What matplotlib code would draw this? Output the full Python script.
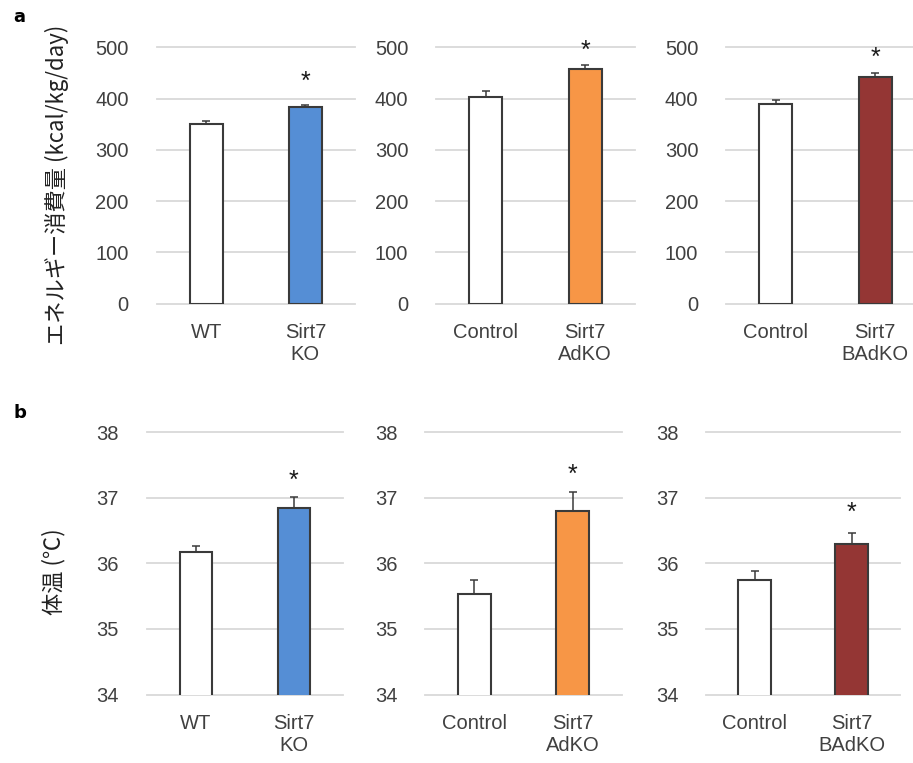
import matplotlib
matplotlib.use("Agg")
import matplotlib.pyplot as plt

# ---------------------------------------------------------------------------
# Data
# ---------------------------------------------------------------------------
GROUP_LABELS = [
    ["WT", "Sirt7\nKO"],
    ["Control", "Sirt7\nAdKO"],
    ["Control", "Sirt7\nBAdKO"],
]
KO_COLORS = ["#558ED5", "#F79646", "#943634"]

ENERGY_MEAN = [[351, 383], [403, 457], [389, 442]]
ENERGY_ERR = [[5, 5], [11, 9], [8, 8]]
ENERGY_STAR = [441, 501, 488]
ENERGY_TICKS = [0, 100, 200, 300, 400, 500]

TEMP_MEAN = [[36.18, 36.85], [35.54, 36.80], [35.75, 36.30]]
TEMP_ERR = [[0.09, 0.17], [0.21, 0.29], [0.14, 0.17]]
TEMP_STAR = [37.33, 37.41, 36.84]
TEMP_TICKS = [34, 35, 36, 37, 38]

# ---------------------------------------------------------------------------
# Layout / style
# ---------------------------------------------------------------------------
W, H = 913, 763
TEXT = "#404040"
GRID = "#D9D9D9"
EDGE = "#3A3A3A"

plt.rcParams["font.family"] = ["Liberation Sans", "Noto Sans CJK JP", "DejaVu Sans"]


def px_axes(x0, x1, ytop, ybot):
    return [x0 / W, 1 - ybot / H, (x1 - x0) / W, (ybot - ytop) / H]


ROW_A = [(156.5, 355), (436, 635), (726, 925)]
ROW_B = [(146.7, 343), (425, 622), (706, 900)]


def draw_panel(ax, labels, means, errs, star_y, ticks, ko_color):
    x = [0, 1]
    ax.bar(x, means, width=0.33, color=["white", ko_color],
           edgecolor=EDGE, linewidth=1.5, zorder=3)
    ax.errorbar(x, means, yerr=[[0, 0], errs], fmt="none", ecolor=EDGE,
                elinewidth=1.1, capsize=3, capthick=1.1, zorder=4)
    ax.annotate("*", (1, star_y), xytext=(0, -3), textcoords="offset points",
                ha="center", va="center", fontsize=18, color="#1A1A1A",
                annotation_clip=False)

    ax.set_xlim(-0.5, 1.5)
    ax.set_ylim(ticks[0], ticks[-1])
    ax.set_yticks(ticks)
    ax.set_xticks(x, labels)
    ax.tick_params(axis="y", length=0, pad=20, labelsize=14.5, labelcolor=TEXT)
    ax.tick_params(axis="x", length=0, pad=14, labelsize=14.5, labelcolor=TEXT)
    for s in ax.spines.values():
        s.set_visible(False)
    ax.set_axisbelow(True)
    ax.yaxis.grid(True, color=GRID, linewidth=1.3)
    for gl in ax.yaxis.get_gridlines():
        gl.set_clip_on(False)


fig = plt.figure(figsize=(W / 100, H / 100), dpi=100)

for i, (x0, x1) in enumerate(ROW_A):
    ax = fig.add_axes(px_axes(x0, x1, 47.3, 303.5))
    draw_panel(ax, GROUP_LABELS[i], ENERGY_MEAN[i], ENERGY_ERR[i],
               ENERGY_STAR[i], ENERGY_TICKS, KO_COLORS[i])

for i, (x0, x1) in enumerate(ROW_B):
    ax = fig.add_axes(px_axes(x0, x1, 432.3, 694.5))
    draw_panel(ax, GROUP_LABELS[i], TEMP_MEAN[i], TEMP_ERR[i],
               TEMP_STAR[i], TEMP_TICKS, KO_COLORS[i])

# axis titles and panel letters
cjk = ["Noto Sans CJK JP", "DejaVu Sans"]
fig.text(57 / W, 1 - 185 / H, "エネルギー消費量 (kcal/kg/day)", rotation=90,
         ha="center", va="center", fontsize=16, color="#222222", family=cjk)
fig.text(54 / W, 1 - 572 / H, "体温 (℃)", rotation=90,
         ha="center", va="center", fontsize=16, color="#222222", family=cjk)
fig.text(13 / W, 1 - 22 / H, "a", fontsize=13, fontweight="bold",
         ha="left", va="baseline", family=["DejaVu Sans"])
fig.text(13 / W, 1 - 418 / H, "b", fontsize=13, fontweight="bold",
         ha="left", va="baseline", family=["DejaVu Sans"])

fig.savefig("out.png", dpi=100)
